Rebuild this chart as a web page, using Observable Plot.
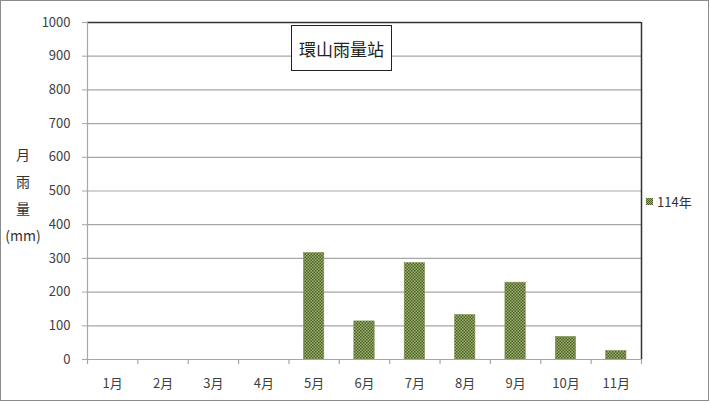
<!DOCTYPE html>
<html><head><meta charset="utf-8">
<script src="https://cdn.jsdelivr.net/npm/d3@7"></script>
<script src="https://cdn.jsdelivr.net/npm/@observablehq/plot@0.6"></script>
<style>
html,body{margin:0;padding:0;background:#fff;}
#wrap{position:relative;width:710px;height:404px;font-family:"Noto Sans CJK TC","Noto Sans",sans-serif;color:#404040;}
#border{position:absolute;left:0;top:0;width:707px;height:399px;border:1.5px solid #8c8c8c;pointer-events:none;}
#title{position:absolute;left:291px;top:25px;width:99px;height:44px;border:1.5px solid #222;background:#fff;font-size:17px;color:#222;display:flex;align-items:center;justify-content:center;}
#ylab{position:absolute;left:2px;top:141px;width:42px;text-align:center;font-size:14px;color:#333;line-height:27px;}
#legend{position:absolute;left:646px;top:192px;font-size:13px;color:#333;display:flex;align-items:center;}
#legend .sw{width:7px;height:7px;margin-right:4px;background:url("data:image/svg+xml,%3Csvg xmlns='http://www.w3.org/2000/svg' width='2' height='2'%3E%3Crect width='2' height='2' fill='%239db36f'/%3E%3Crect width='1' height='1' fill='%234a5e25'/%3E%3Crect x='1' y='1' width='1' height='1' fill='%234a5e25'/%3E%3C/svg%3E");}
svg{position:absolute;left:0;top:0;}
</style></head>
<body>
<div id="wrap">
<div id="chart"></div>
<div id="title">環山雨量站</div>
<div id="ylab">月<br>雨<br>量<br>(mm)</div>
<div id="legend"><span class="sw"></span><span>114年</span></div>
<div id="border"></div>
</div>
<script>
const months = ["1月","2月","3月","4月","5月","6月","7月","8月","9月","10月","11月"];
const rain114 = [0,0,0,0,316,113,286,132,228,67,25];
const yTicks = [0,100,200,300,400,500,600,700,800,900,1000];
const seriesName = "114年";

const data = months.map((m,i)=>({month:m, idx:i, value:rain114[i]}));
const boundaries = d3.range(0, months.length + 1);

const chart = Plot.plot({
  width: 710,
  height: 404,
  marginLeft: 87,
  marginRight: 69,
  marginTop: 22,
  marginBottom: 45,
  style: {fontFamily: '"Noto Sans CJK TC","Noto Sans",sans-serif', fontSize: "13px", color: "#404040", background: "transparent"},
  x: {type: "linear", domain: [0, months.length], axis: null},
  y: {type: "linear", domain: [0, 1000], axis: null},
  marks: [
    Plot.ruleY(yTicks.filter(d=>d>0 && d<1000), {stroke: "#a6a6a6", strokeWidth: 1.2}),
    Plot.ruleY([1000], {stroke: "#333", strokeWidth: 1.3}),
    Plot.ruleX([months.length], {stroke: "#333", strokeWidth: 1.5}),
    Plot.rectY(data, {x1: d=>d.idx, x2: d=>d.idx+1, y: "value", fill: "url(#chk)", stroke: "#7d9150", strokeWidth: 0.6, insetLeft: 15, insetRight: 15}),
    Plot.ruleX([0], {stroke: "#a6a6a6", strokeWidth: 1.2}),
    Plot.ruleY([0], {stroke: "#a6a6a6", strokeWidth: 1.2}),
    Plot.axisY({ticks: yTicks, tickSize: 5, tickPadding: 12, tickFormat: d=>String(d), stroke: "#a6a6a6", label: null, fill: "#404040", fontSize: 13}),
    Plot.ruleX(boundaries, {x: d=>d, y1: 0, y2: 0, insetTop: 0, insetBottom: -5, stroke: "#a6a6a6", strokeWidth: 1.2}),
    Plot.text(data, {x: d=>d.idx+0.5, y: 0, text: "month", dy: 24, fill: "#404040", fontSize: 13})
  ]
});
const defs = d3.select(chart).insert("defs", ":first-child");
const pat = defs.append("pattern").attr("id","chk").attr("width",3).attr("height",3).attr("patternUnits","userSpaceOnUse");
pat.append("rect").attr("width",3).attr("height",3).attr("fill","#9db36f");
pat.append("rect").attr("x",0).attr("y",0).attr("width",1.5).attr("height",1.5).attr("fill","#4a5e25");
pat.append("rect").attr("x",1.5).attr("y",1.5).attr("width",1.5).attr("height",1.5).attr("fill","#4a5e25");
document.getElementById("chart").appendChild(chart);
</script>
</body></html>
